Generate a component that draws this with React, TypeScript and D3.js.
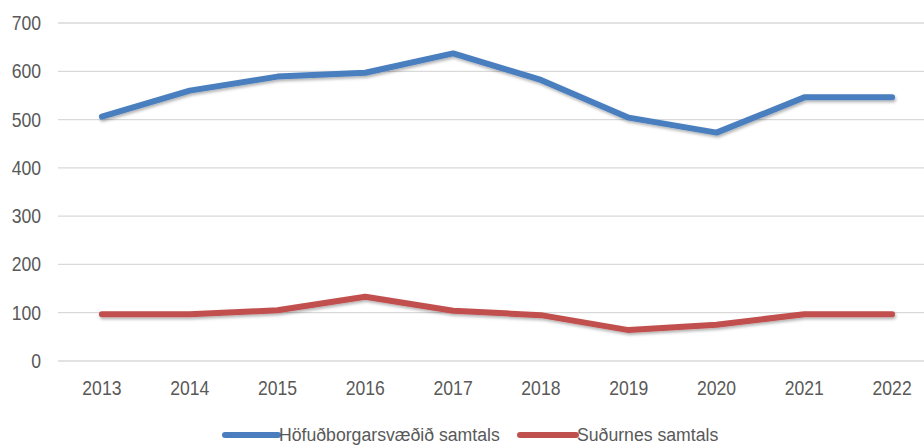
import React from "react";
import * as d3 from "d3";

const years = ["2013", "2014", "2015", "2016", "2017", "2018", "2019", "2020", "2021", "2022"];
const hofudborg = [506, 560, 589, 597, 637, 582, 504, 473, 546, 546];
const sudurnes = [97, 97, 105, 133, 104, 95, 64, 75, 97, 97];
const yTicks = [0, 100, 200, 300, 400, 500, 600, 700];
const seriesNames = ["Höfuðborgarsvæðið samtals", "Suðurnes samtals"];
const colors = ["#4A7EBF", "#C0504D"];

const W = 924;
const H = 445;
const left = 58;
const right = 936;
const top = 23;
const bottom = 361;
const SX = 0.88;

export default function App() {
  const x = d3.scaleBand<string>().domain(years).range([left, right]);
  const y = d3.scaleLinear().domain([0, 700]).range([bottom, top]);
  const line = d3
    .line<number>()
    .x((_, i) => (x(years[i]) as number) + x.bandwidth() / 2)
    .y((d) => y(d));
  const font = "'Liberation Sans', Arial, sans-serif";
  const textColor = "#595959";
  const legend = [
    { name: seriesNames[0], color: colors[0], x0: 225, x1: 278 },
    { name: seriesNames[1], color: colors[1], x0: 520, x1: 576 },
  ];
  return (
    <div style={{ position: "absolute", left: 0, top: 0 }}>
      <svg width={W} height={H} style={{ display: "block", background: "#fff" }}>
        <defs>
          <filter id="sh" x="-10%" y="-50%" width="120%" height="200%">
            <feDropShadow dx="1" dy="2" stdDeviation="1.5" floodColor="#000" floodOpacity="0.3" />
          </filter>
        </defs>
        {yTicks.map((t) => (
          <g key={t}>
            <line x1={left} x2={W} y1={y(t)} y2={y(t)} stroke="#d9d9d9" strokeWidth={1.3} />
            <text
              transform={`translate(41,${y(t) + 7}) scale(${SX},1)`}
              textAnchor="end"
              fontFamily={font}
              fontSize={20}
              fill={textColor}
            >
              {t}
            </text>
          </g>
        ))}
        {years.map((yr) => (
          <text
            key={yr}
            transform={`translate(${(x(yr) as number) + x.bandwidth() / 2},395) scale(${SX},1)`}
            textAnchor="middle"
            fontFamily={font}
            fontSize={20}
            fill={textColor}
          >
            {yr}
          </text>
        ))}
        {[hofudborg, sudurnes].map((s, i) => (
          <path
            key={i}
            d={line(s) as string}
            fill="none"
            stroke={colors[i]}
            strokeWidth={6}
            strokeLinecap="round"
            strokeLinejoin="round"
            filter="url(#sh)"
          />
        ))}
        {legend.map((l) => (
          <g key={l.name}>
            <line x1={l.x0} x2={l.x1} y1={435} y2={435} stroke={l.color} strokeWidth={6} strokeLinecap="round" />
            <text
              transform={`translate(${l.x1 + 1},441) scale(0.93,1)`}
              fontFamily={font}
              fontSize={19}
              fill={textColor}
            >
              {l.name}
            </text>
          </g>
        ))}
      </svg>
    </div>
  );
}
